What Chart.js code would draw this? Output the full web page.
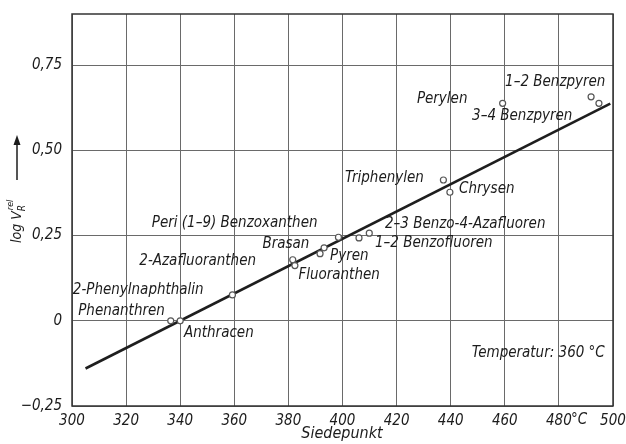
<!DOCTYPE html>
<html>
<head>
<meta charset="utf-8">
<script src="https://cdn.jsdelivr.net/npm/chart.js@4"></script>
<style>
  body { margin: 0; background: #fff; }
  canvas { display: block; }
</style>
</head>
<body>
<canvas id="chart" width="626" height="444"></canvas>
<script>
// Siedepunkt (°C) und log V_R^rel der Substanzen
const siedepunkt = [336.5, 340, 359.3, 381.6, 382.4, 391.7, 393.2, 398.5, 406.1, 409.9, 437.3, 439.7, 459.2, 491.9, 494.8];
const logV = [0, 0, 0.076, 0.179, 0.162, 0.197, 0.214, 0.245, 0.243, 0.257, 0.413, 0.377, 0.638, 0.657, 0.638];

// Ausgleichsgerade
const lineT = [305, 499];
const lineV = [-0.14, 0.637];

// Achsen
const xTicks = [300, 320, 340, 360, 380, 400, 420, 440, 460, 480, 500];
const yTicks = [-0.25, 0, 0.25, 0.5, 0.75];

// Beschriftungen (Text, Lage in Datenkoordinaten: linker Rand, Mitte)
const labelText = ['Peri (1–9) Benzoxanthen', 'Brasan', '2-Azafluoranthen', '2-Phenylnaphthalin',
  'Phenanthren', 'Anthracen', 'Fluoranthen', 'Pyren', '1–2 Benzofluoren', '2–3 Benzo-4-Azafluoren',
  'Chrysen', 'Triphenylen', 'Perylen', '3–4 Benzpyren', '1–2 Benzpyren', 'Temperatur: 360 °C'];
const labelT = [329.5, 370.4, 324.9, 300.3, 302.3, 341.4, 383.7, 395.4, 412.0, 415.7, 443.1, 400.9, 427.5, 447.9, 460.1, 447.8];
const labelV = [0.287, 0.224, 0.174, 0.091, 0.027, -0.036, 0.133, 0.189, 0.229, 0.285, 0.385, 0.418, 0.65, 0.6, 0.7, -0.095];

const FONT = '"DejaVu Sans Condensed", "Liberation Sans Narrow", sans-serif';
const INK = '#1c1c1c';

function fmtY(v) {
  if (v === 0) return '0';
  const s = Math.abs(v).toFixed(2).replace('.', ',');
  return v < 0 ? '−' + s : s;
}

const extras = {
  id: 'extras',
  afterDatasetsDraw(chart) {
    const ctx = chart.ctx;
    const xs = chart.scales.x, ys = chart.scales.y;
    const a = chart.chartArea;
    ctx.save();
    // Rahmen
    ctx.strokeStyle = '#333';
    ctx.lineWidth = 1.5;
    ctx.strokeRect(a.left, a.top, a.right - a.left, a.bottom - a.top);

    ctx.fillStyle = INK;
    ctx.font = 'italic 15px ' + FONT;
    ctx.textBaseline = 'middle';
    ctx.textAlign = 'left';
    labelText.forEach((t, i) => {
      ctx.fillText(t, xs.getPixelForValue(labelT[i]), ys.getPixelForValue(labelV[i]));
    });

    // °C hinter 480
    ctx.fillText('°C', xs.getPixelForValue(480) + 12, a.bottom + 14);

    // x-Achsentitel
    ctx.textAlign = 'center';
    ctx.font = 'italic 16px ' + FONT;
    ctx.fillText('Siedepunkt', 342, a.bottom + 28);

    // y-Achsentitel, gedreht, mit Pfeil
    ctx.translate(21, 243);
    ctx.rotate(-Math.PI / 2);
    ctx.textAlign = 'left';
    ctx.textBaseline = 'alphabetic';
    ctx.font = 'italic 14px ' + FONT;
    ctx.fillText('log V', 0, 0);
    const w = ctx.measureText('log V').width;
    ctx.font = 'italic 9px ' + FONT;
    ctx.fillText('rel', w + 1, -8);
    ctx.font = 'italic 10px ' + FONT;
    ctx.fillText('R', w, 4);
    // Pfeil
    ctx.strokeStyle = INK;
    ctx.lineWidth = 1.5;
    ctx.beginPath();
    ctx.moveTo(63, -4);
    ctx.lineTo(100, -4);
    ctx.stroke();
    ctx.beginPath();
    ctx.moveTo(108, -4);
    ctx.lineTo(98, -7.5);
    ctx.lineTo(98, -0.5);
    ctx.closePath();
    ctx.fill();
    ctx.restore();
  }
};

new Chart(document.getElementById('chart'), {
  type: 'scatter',
  data: {
    datasets: [
      {
        data: siedepunkt.map((t, i) => ({ x: t, y: logV[i] })),
        pointRadius: 3,
        pointBorderWidth: 1.2,
        pointBorderColor: '#555',
        pointBackgroundColor: '#fff'
      },
      {
        type: 'line',
        data: lineT.map((t, i) => ({ x: t, y: lineV[i] })),
        borderColor: '#1e1e1e',
        borderWidth: 2.6,
        pointRadius: 0,
        fill: false
      }
    ]
  },
  options: {
    responsive: false,
    animation: false,
    devicePixelRatio: 1,
    layout: { padding: { left: 0, top: 14, right: 13, bottom: 0 } },
    plugins: { legend: { display: false }, tooltip: { enabled: false } },
    scales: {
      x: {
        type: 'linear',
        min: 300,
        max: 500,
        afterBuildTicks: s => { s.ticks = xTicks.map(v => ({ value: v })); },
        afterFit: s => { s.height = 38; s.paddingLeft = 0; s.paddingRight = 0; },
        grid: { color: '#6a6a6a', lineWidth: 1, drawTicks: false },
        border: { display: false },
        ticks: {
          padding: 6,
          color: INK,
          font: { family: FONT, size: 15, style: 'italic' },
          maxRotation: 0,
          callback: v => String(v)
        }
      },
      y: {
        type: 'linear',
        min: -0.25,
        max: 0.9,
        afterBuildTicks: s => { s.ticks = yTicks.map(v => ({ value: v })); },
        afterFit: s => { s.width = 72; s.paddingTop = 0; s.paddingBottom = 0; },
        grid: { color: '#6a6a6a', lineWidth: 1, drawTicks: false },
        border: { display: false },
        ticks: {
          padding: 10,
          color: INK,
          font: { family: FONT, size: 15, style: 'italic' },
          callback: v => fmtY(v)
        }
      }
    }
  },
  plugins: [extras]
});
</script>
</body>
</html>
